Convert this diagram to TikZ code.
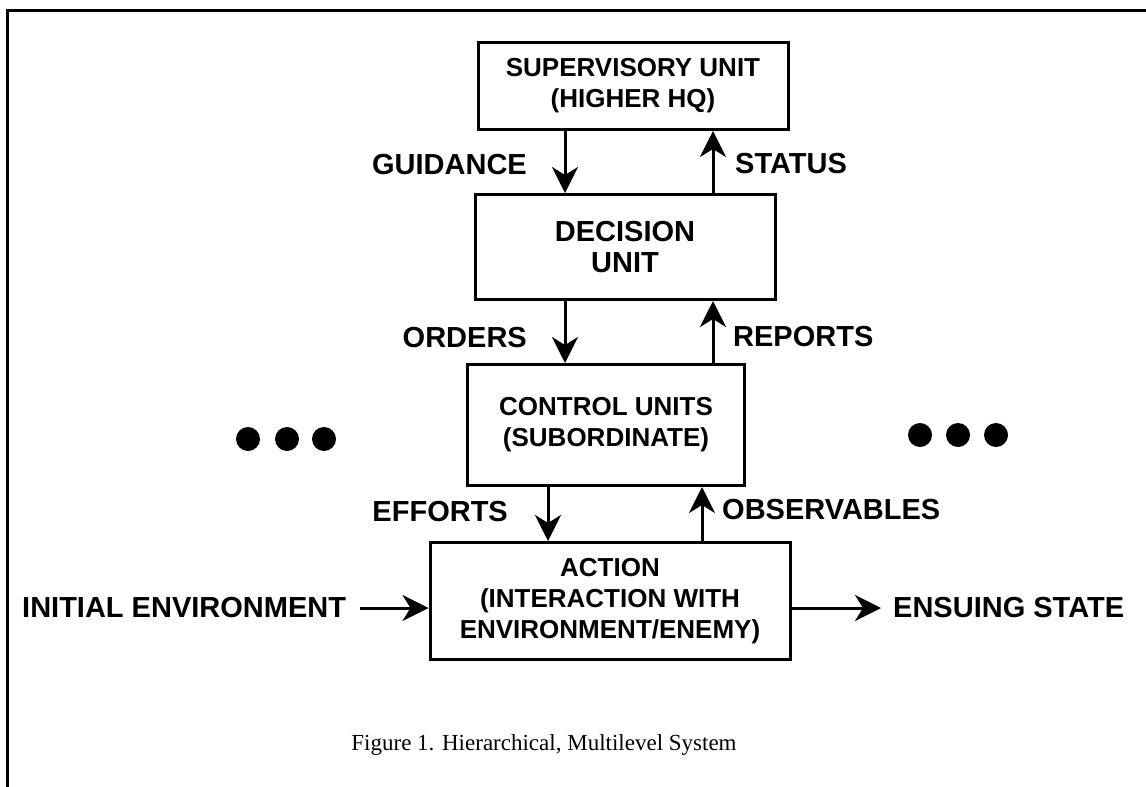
\documentclass[tikz,border=0pt]{standalone}
\usepackage{fontspec}
\setmainfont{Liberation Serif}
\setsansfont{Liberation Sans}
\usetikzlibrary{arrows.meta,positioning}

\tikzset{
  unitbox/.style={draw, line width=3pt, align=center, inner sep=4pt,
    font=\sffamily\bfseries\fontsize{26}{31}\selectfont},
  flow/.style={line width=3pt, -{Stealth[length=26pt,width=26pt,inset=8pt]}},
  lbl/.style={font=\sffamily\bfseries\fontsize{29}{32}\selectfont, inner sep=2pt},
}

\begin{document}
\begin{tikzpicture}[x=1pt,y=-1pt]
  \useasboundingbox (0,0) rectangle (1146,787);
  % frame
  \draw[line width=3pt] (7,787) -- (7,10) -- (1146,10);

  % the four levels
  \node[unitbox, minimum width=310pt, minimum height=87pt] (sup) at (633,86)
    {SUPERVISORY UNIT\\(HIGHER HQ)};
  \node[unitbox, minimum width=300pt, minimum height=105pt,
    font=\sffamily\bfseries\fontsize{29}{31}\selectfont] (dec) at (625,247)
    {DECISION\\UNIT};
  \node[unitbox, minimum width=277pt, minimum height=121pt] (ctl) at (606,425)
    {CONTROL UNITS\\(SUBORDINATE)};
  \node[unitbox, minimum width=360pt, minimum height=117pt] (act) at (610,601)
    {ACTION\\(INTERACTION WITH\\ENVIRONMENT/ENEMY)};

  % columns of the vertical arrows
  \coordinate (dnA) at (565,0);
  \coordinate (upA) at (713,0);
  \coordinate (dnB) at (548,0);
  \coordinate (upB) at (702,0);

  \draw[flow] (sup.south -| dnA) -- (dec.north -| dnA);
  \draw[flow] (dec.north -| upA) -- (sup.south -| upA);
  \draw[flow] (dec.south -| dnA) -- (ctl.north -| dnA);
  \draw[flow] (ctl.north -| upA) -- (dec.south -| upA);
  \draw[flow] (ctl.south -| dnB) -- (act.north -| dnB);
  \draw[flow] (act.north -| upB) -- (ctl.south -| upB);

  \node[lbl, anchor=east] (guid) at (529,165) {GUIDANCE};
  \node[lbl, anchor=west] (stat) at (733,164) {STATUS};
  \node[lbl, anchor=east] (ord) at (529,338) {ORDERS};
  \node[lbl, anchor=west] (rep) at (731,337) {REPORTS};
  \node[lbl, anchor=east] (eff) at (510,512) {EFFORTS};
  \node[lbl, anchor=west] (obs) at (720,510) {OBSERVABLES};

  % other units at the same level
  \foreach \x in {248,287,324} \fill (\x,439) circle (12);
  \foreach \x in {920,958,996} \fill (\x,435) circle (12);

  % environment in and out
  \node[lbl, anchor=west] (init) at (20,608) {INITIAL ENVIRONMENT};
  \node[lbl, anchor=west] (ens) at (891,608) {ENSUING STATE};
  \draw[flow, shorten <=12pt] (init.east) -- (init.east -| act.west);
  \draw[flow, shorten >=10pt] (act.east |- ens.west) -- (ens.west);

  \node[font=\rmfamily\fontsize{23}{28}\selectfont] (cap) at (544,745)
    {Figure 1. Hierarchical, Multilevel System};
\end{tikzpicture}
\end{document}
